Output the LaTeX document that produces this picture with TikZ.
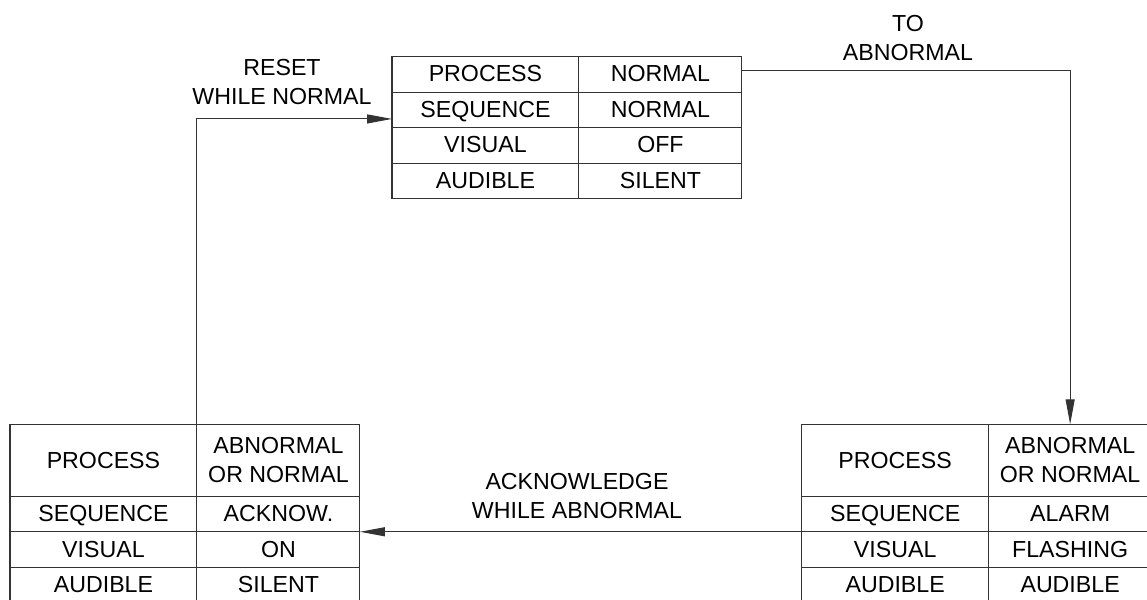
\documentclass[tikz,border=0pt]{standalone}
\usepackage{fontspec}
\setmainfont{Liberation Sans}
\usepackage{tikz}
\usetikzlibrary{arrows.meta, positioning}
\newcommand{\cellfont}{\fontsize{13.2pt}{16.5pt}\selectfont}

\tikzset{
  cell/.style = {draw=black!80, line width=0.6pt, outer sep=0pt, inner sep=0pt, minimum height=0.71cm, align=center, font=\cellfont, text height=0.33cm, text depth=0.03cm},
  keycell/.style = {cell, minimum width=3.74cm},
  valcell/.style = {cell, minimum width=3.26cm},
  tallrow/.style = {minimum height=1.44cm, text height=, text depth=},
  translbl/.style = {align=center, font=\cellfont},
  flow/.style = {draw=black!80, line width=0.6pt, -{Triangle[length=0.5cm, width=0.18cm]}},
}

\begin{document}
\begin{tikzpicture}[x=0.02cm, y=-0.02cm]
  \useasboundingbox (0,0) rectangle (1147,599);
  \clip (0,0) rectangle (1147,599);

  % normal
  \node[keycell, anchor=north west] (nk1) at (392,56.7) {PROCESS};
  \node[valcell, right=0pt of nk1] (nv1) {NORMAL};
  \node[keycell, below=0pt of nk1] (nk2) {SEQUENCE};
  \node[valcell, right=0pt of nk2] (nv2) {NORMAL};
  \node[keycell, below=0pt of nk2] (nk3) {VISUAL};
  \node[valcell, right=0pt of nk3] (nv3) {OFF};
  \node[keycell, below=0pt of nk3] (nk4) {AUDIBLE};
  \node[valcell, right=0pt of nk4] (nv4) {SILENT};

  % acknowledged
  \node[keycell, tallrow, anchor=north west] (ak1) at (10,424.3) {PROCESS};
  \node[valcell, tallrow, right=0pt of ak1] (av1) {ABNORMAL\\OR NORMAL};
  \node[keycell, below=0pt of ak1] (ak2) {SEQUENCE};
  \node[valcell, right=0pt of ak2] (av2) {ACKNOW.};
  \node[keycell, below=0pt of ak2] (ak3) {VISUAL};
  \node[valcell, right=0pt of ak3] (av3) {ON};
  \node[keycell, below=0pt of ak3] (ak4) {AUDIBLE};
  \node[valcell, right=0pt of ak4] (av4) {SILENT};

  % alarm
  \node[keycell, tallrow, anchor=north west] (lk1) at (801.7,424.3) {PROCESS};
  \node[valcell, tallrow, right=0pt of lk1] (lv1) {ABNORMAL\\OR NORMAL};
  \node[keycell, below=0pt of lk1] (lk2) {SEQUENCE};
  \node[valcell, right=0pt of lk2] (lv2) {ALARM};
  \node[keycell, below=0pt of lk2] (lk3) {VISUAL};
  \node[valcell, right=0pt of lk3] (lv3) {FLASHING};
  \node[keycell, below=0pt of lk3] (lk4) {AUDIBLE};
  \node[valcell, right=0pt of lk4] (lv4) {AUDIBLE};

  \draw[flow] ([yshift=0.08cm]nv1.east) -| (lv1.north);
  \draw[flow] (lk2.south west) -- (av2.south east);
  \draw[flow] (ak1.north east) |- ([yshift=-0.18cm]nk2.west);

  \node[translbl] (abnlbl) at (908,38) {TO\\ABNORMAL};
  \node[translbl] (acklbl) at (577,496) {ACKNOWLEDGE\\WHILE ABNORMAL};
  \node[translbl] (resetlbl) at (282,81.6) {RESET\\WHILE NORMAL};
\end{tikzpicture}
\end{document}
